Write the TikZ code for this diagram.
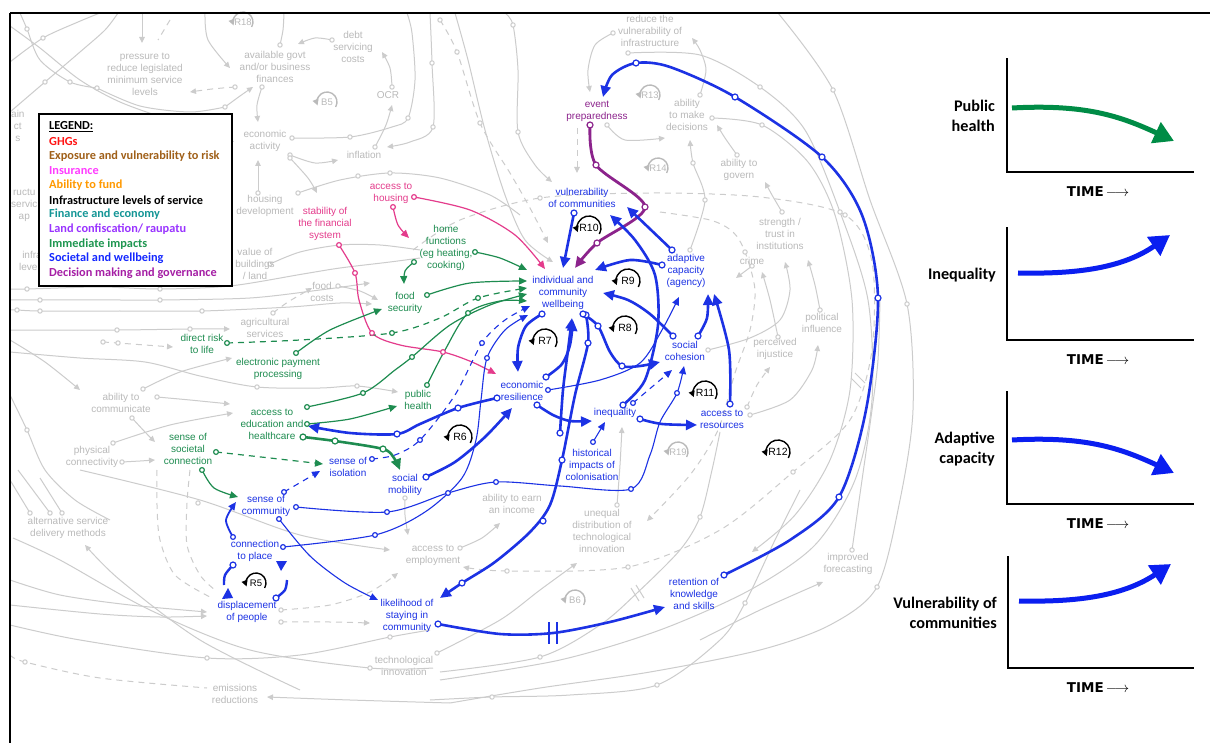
\documentclass[tikz,border=0pt]{standalone}
\usepackage{fontspec}
\usetikzlibrary{arrows.meta,calc}
\newfontfamily\diafont{Liberation Sans}
\newfontfamily\calfont{Carlito}
\newfontfamily\timefont{DejaVu Sans}
\definecolor{dblue}{RGB}{28,50,228}
\definecolor{dgreen}{RGB}{30,140,80}
\definecolor{dpink}{RGB}{228,60,140}
\definecolor{dpurple}{RGB}{140,35,140}
\definecolor{gline}{RGB}{204,204,204}
\definecolor{gtext}{RGB}{186,186,186}
\definecolor{cgreen}{RGB}{0,140,70}
\definecolor{cblue}{RGB}{10,30,240}
\definecolor{lgred}{RGB}{255,20,20}
\definecolor{lgbrown}{RGB}{160,96,25}
\definecolor{lgpink}{RGB}{255,60,255}
\definecolor{lgorange}{RGB}{255,153,0}
\definecolor{lgteal}{RGB}{20,150,150}
\definecolor{lgviolet}{RGB}{153,51,255}
\definecolor{lggreen}{RGB}{30,150,80}
\definecolor{lgblue}{RGB}{20,40,255}
\definecolor{lgplum}{RGB}{165,30,165}

\tikzset{
  lbl/.style={font=\diafont\fontsize{10}{12}\selectfont, align=center, inner sep=0pt},
  glbl/.style={lbl, text=gtext},
  blbl/.style={lbl, text=dblue},
  grlbl/.style={lbl, text=dgreen},
  pklbl/.style={lbl, text=dpink},
  pplbl/.style={lbl, text=dpurple},
  gl/.style={draw=gline, line width=1pt},
  gd/.style={gl, dash pattern=on 6pt off 5pt},
  gtip/.style={-{Triangle[length=6pt,width=5.5pt]}},
  bthin/.style={draw=dblue, line width=1.1pt},
  bthick/.style={draw=dblue, line width=2.6pt},
  gthin/.style={draw=dgreen, line width=1.2pt},
  gthick/.style={draw=dgreen, line width=2.6pt},
  kthin/.style={draw=dpink, line width=1.2pt},
  pthick/.style={draw=dpurple, line width=2.8pt},
  tipS/.style={-{Triangle[length=8pt,width=7pt]}},
  tipL/.style={-{Triangle[length=11pt,width=10pt]}},
  dsh/.style={dash pattern=on 6pt off 5pt},
  legtxt/.style={anchor=west, inner sep=0pt, font=\calfont\bfseries\fontsize{12.3}{14}\selectfont},
  chartlbl/.style={anchor=east, align=right, inner sep=0pt, font=\calfont\bfseries\fontsize{16.2}{20}\selectfont},
  timelbl/.style={inner sep=0pt, font=\timefont\bfseries\fontsize{13.5}{14}\selectfont},
  axis/.style={line width=2.6pt, line cap=rect},
}

% open circles that mark the start and the bends of a link
\newcommand{\dmark}[3]{\foreach \q in {#3}{\draw[draw=#1,fill=white,line width=1.2pt] \q circle (#2pt);}}
\newcommand{\gmark}[1]{\foreach \q in {#1}{\draw[gl,fill=white] \q circle (2.2pt);}}
% loop marker: label inside a circular arrow
\newcommand{\rloop}[6]{%
  \node[font=\diafont\fontsize{#6}{#6}\selectfont,text=#4,inner sep=0pt] (#1) at (#2) {#3};
  \draw[draw=#4,line width=1.4pt,-{Triangle[length=6pt,width=6pt]}] ($(#2)+(30:#5)$) arc[start angle=30,end angle=-200,radius=#5];
}

\begin{document}
\begin{tikzpicture}[x=1pt,y=-1pt]
\fill[white] (0,0) rectangle (1210,743);
\useasboundingbox (0,0) rectangle (1210,743);

% ================= background web (grey) =================
\begin{scope}
\clip (11,14) rectangle (930,743);
\draw[gl] plot[smooth] coordinates {(10,62) (43,38) (78,22) (100,13)};
\draw[gl,gtip] plot[smooth] coordinates {(10,26) (40,48) (80,80) (120,102) (170,120) (210,132) (234,142)};
\draw[gl] plot[smooth] coordinates {(10,112) (45,82) (80,52) (105,30) (118,13)};
\draw[gl] plot[smooth] coordinates {(20,13) (27,29) (40,60) (70,82) (97,88)};
\draw[gl] plot[smooth] coordinates {(97,88) (140,106) (190,112) (225,107)};
\draw[gl,gtip] (142,13) -- (142,43);
\draw[gd] (170,20) -- (158,40);
\draw[gl,gtip] plot[smooth] coordinates {(205,13) (208,40) (230,68)};
\draw[gl] plot[smooth] coordinates {(280,45) (283,30) (284,13)};
\draw[gl,gtip] plot[smooth] coordinates {(332,40) (315,38) (298,44)};
\draw[gd,gtip] plot[smooth] coordinates {(235,87) (212,89) (190,92)};
\draw[gl,gtip] plot[smooth] coordinates {(225,107) (240,96) (253,87)};
\draw[gl,gtip] plot[smooth] coordinates {(262,87) (257,105) (258,122)};
\draw[gl] plot[smooth] coordinates {(292,138) (350,137) (392,127) (408,118) (415,80) (412,33) (407,13)};
\draw[gl,gtip] plot[smooth] coordinates {(375,147) (386,125) (392,105)};
\draw[gl,gtip] plot[smooth] coordinates {(392,87) (390,68) (382,52)};
\draw[gl,gtip] plot[smooth] coordinates {(290,155) (315,163) (338,160)};
\draw[gl,gtip] plot[smooth] coordinates {(430,13) (432,63) (433,127) (410,142) (387,147)};
\draw[gd,gtip] plot[smooth] coordinates {(440,20) (457,52) (480,123) (510,173) (530,208) (548,243)};
\draw[gl,gtip] plot[smooth] coordinates {(505,13) (513,25) (518,70) (518,132) (535,165) (552,182)};
\draw[gl,gtip] plot[smooth] coordinates {(455,13) (468,60) (485,130) (505,195) (525,240) (553,262)};
\draw[gl] plot[smooth] coordinates {(298,193) (340,180) (390,173) (440,178) (490,195) (520,215)};
\draw[gl,gtip] plot[smooth] coordinates {(290,158) (308,178) (317,193)};
\draw[gl,gtip] (258,193) -- (258,160);
\draw[gl] plot[smooth] coordinates {(270,264) (300,252) (340,245) (380,245) (420,250)};
\draw[gl,gtip] plot[smooth] coordinates {(338,286) (360,291) (378,300)};
\draw[gd,gtip] plot[smooth] coordinates {(273,313) (288,302) (312,288)};
\draw[gl] plot[smooth] coordinates {(10,289) (27,289) (100,287) (160,289) (230,286) (303,274) (340,268) (390,262) (420,258)};
\draw[gl,gtip] plot[smooth] coordinates {(10,300) (40,300) (120,300) (160,300) (250,298) (320,290) (370,283)};
\draw[gl,gtip] plot[smooth] coordinates {(10,310) (17,310) (40,311) (120,311) (202,311) (290,307) (340,303) (372,304)};
\draw[gl,gtip] plot[smooth] coordinates {(10,330) (117,330) (190,329) (230,329)};
\draw[gd,gtip] plot[smooth] coordinates {(103,342) (118,343) (145,345) (173,347)};
\draw[gl,gtip] plot[smooth] coordinates {(10,352) (80,358) (145,362) (200,376) (257,387) (320,388) (357,386) (398,392)};
\draw[gl,gtip] plot[smooth] coordinates {(10,340) (45,362) (80,390)};
\draw[gl,gtip] plot[smooth] coordinates {(143,389) (180,372) (232,358)};
\draw[gl,gtip] plot[smooth] coordinates {(157,397) (190,400) (230,404)};
\draw[gl,gtip] plot[smooth] coordinates {(132,418) (145,432) (155,442)};
\draw[gl,gtip] plot[smooth] coordinates {(113,443) (170,425) (233,413)};
\draw[gl,gtip] plot[smooth] coordinates {(122,462) (140,461) (155,460)};
\draw[gl] plot[smooth] coordinates {(10,395) (27,430) (45,470) (75,500) (110,520)};
\draw[gl,gtip] plot[smooth] coordinates {(10,580) (60,595) (130,605) (207,612)};
\draw[gl,gtip] plot[smooth] coordinates {(10,605) (100,614) (160,617) (207,616)};
\draw[gl] plot[smooth] coordinates {(10,625) (80,640) (207,658) (300,655) (390,637) (430,630)};
\draw[gd] plot[smooth] coordinates {(10,655) (25,662) (100,678) (207,688)};
\draw[gl,gtip] plot[smooth] coordinates {(450,703) (350,700) (267,697)};
\draw[gl] plot[smooth] coordinates {(13,538) (60,560) (150,610) (250,650) (370,668) (433,668)};
\draw[gl,gtip] plot[smooth] coordinates {(300,690) (200,640) (120,580) (85,545)};
\draw[gl] (10,480) -- (30,513);
\draw[gl] (18,470) -- (50,513);
\draw[gl] (40,478) -- (62,513);
\draw[gd] plot[smooth] coordinates {(157,470) (157,505) (160,540) (175,575) (210,597)};
\draw[gd] plot[smooth] coordinates {(190,470) (187,503) (187,545) (200,575) (215,590)};
\draw[gd,gtip] plot[smooth] coordinates {(281,610) (330,605) (370,592) (398,573)};
\draw[gd,gtip] plot[smooth] coordinates {(281,622) (330,622) (370,623)};
\draw[gl,gtip] plot[smooth] coordinates {(460,548) (482,538) (500,523)};
\draw[gl,gtip] plot[smooth] coordinates {(405,498) (405,515) (408,535)};
\draw[gl,gtip] plot[smooth] coordinates {(80,470) (200,500) (300,535) (390,550)};
\draw[gl,gtip] plot[smooth] coordinates {(617,505) (620,465) (622,427)};
\draw[gl,gtip] plot[smooth] coordinates {(437,653) (500,620) (540,590) (577,563)};
\draw[gl] plot[smooth] coordinates {(440,672) (540,657) (600,625) (637,593) (680,550) (700,517) (712,470) (720,432)};
\draw[gl] plot[smooth] coordinates {(430,700) (492,697) (570,695) (657,685) (720,640) (745,603) (775,540) (800,490)};
\draw[gl] plot[smooth] coordinates {(852,550) (862,480) (872,410) (878,360) (880,300)};
\draw[gl,gtip] plot[smooth] coordinates {(700,640) (760,610) (823,582)};
\draw[gd,gtip] plot[smooth] coordinates {(413,250) (460,220) (540,198) (650,193) (760,197) (845,215) (872,262) (872,350) (850,420) (793,472) (720,530) (628,567) (507,571) (463,567)};
\draw[gd,gtip] plot[smooth] coordinates {(660,212) (710,220) (733,232) (745,252) (755,290) (750,330) (735,373) (718,430) (690,475) (647,521)};
\draw[gl,gtip] plot[smooth] coordinates {(782,212) (772,195) (765,182)};
\draw[gl,gtip] plot[smooth] coordinates {(737,155) (725,138) (717,125)};
\draw[gl,gtip] plot[smooth] coordinates {(690,250) (705,200) (693,163) (690,140)};
\draw[gl,gtip] plot[smooth] coordinates {(752,266) (744,272) (736,278)};
\draw[gl,gtip] plot[smooth] coordinates {(778,337) (770,300) (762,272)};
\draw[gl,gtip] plot[smooth] coordinates {(708,350) (750,338) (780,320) (790,290) (785,262)};
\draw[gl,gtip] plot[smooth] coordinates {(820,310) (815,285) (808,260)};
\draw[gl,gtip] plot[smooth] coordinates {(750,415) (790,400) (812,370) (818,345)};
\draw[gd,gtip] plot[smooth] coordinates {(747,407) (757,385) (770,367)};
\draw[gl] plot[smooth] coordinates {(778,13) (833,90) (870,200) (907,304) (913,410) (900,500) (877,587) (830,625) (760,650) (650,672) (540,688) (450,703)};
\draw[gl] plot[smooth] coordinates {(628,53) (700,55) (760,87) (805,130) (840,212) (868,300) (872,400) (855,480) (815,545) (750,590) (660,630) (560,660) (440,680)};
\draw[gl,gtip] plot[smooth] coordinates {(712,118) (762,125) (808,162) (835,215) (852,300) (850,390) (830,460) (795,515) (752,552)};
\draw[gl,gtip] plot[smooth] coordinates {(613,33) (595,45) (588,70) (590,92)};
\draw[gl,gtip] plot[smooth] coordinates {(700,95) (706,70) (700,50) (692,38)};
\draw[gl,gtip] plot[smooth] coordinates {(607,125) (625,140) (665,138)};
\draw[gd,gtip] (577,128) -- (577,173);
\draw[gl] (631,588) -- (639,601) (636,585) -- (644,598);
\draw[gl] (851,378) -- (861,388) (855,373) -- (865,383);
\gmark{(43,38),(45,82),(27,29),(70,82),(97,88),(225,107),(280,45),(332,40),(235,87),(262,87),(292,138),(350,137),(408,118),
  (375,147),(392,87),(290,155),(432,63),(433,127),(440,20),(457,52),(480,123),(513,25),(518,132),(298,193),(358,176),(390,173),
  (290,158),(258,193),(270,264),(338,286),(273,313),(27,289),(160,289),(40,300),(160,300),(17,310),(40,311),(202,311),
  (117,330),(190,329),(103,342),(118,343),(257,387),(357,386),(143,389),(157,397),(132,418),(113,443),(122,462),(27,430),
  (207,658),(390,637),(25,662),(370,668),(30,513),(50,513),(62,513),(198,503),(281,610),(281,622),(460,548),(405,498),
  (617,505),(437,653),(540,657),(700,517),(492,697),(657,685),(745,603),(852,550),(877,587),(540,198),(845,215),(793,472),
  (628,567),(507,571),(745,252),(782,212),(737,155),(690,250),(705,200),(693,163),(752,266),(778,337),(708,350),(820,310),
  (750,415),(747,407),(833,90),(907,304),(760,87),(840,212),(712,118),(762,125),(613,33),(628,53),(700,95),(607,125)}
\end{scope}

% ---------- grey labels ----------
\begin{scope}
\clip (11,14) rectangle (930,743);
\node[glbl,anchor=west] (frA) at (11,126) {ain\\ct\\s};
\node[glbl,anchor=west] (frB) at (11,205) {ructu\\servic\\ap};
\node[glbl,anchor=west] (frC) at (19,261) {infra\\levels};
\end{scope}
\node[glbl] (pressure) at (145,74) {pressure to\\reduce legislated\\minimum service\\levels};
\node[glbl] (govt) at (275,67) {available govt\\and/or business\\finances};
\node[glbl] (debt) at (353,47) {debt\\servicing\\costs};
\node[glbl] (ocr) at (388,95) {OCR};
\node[glbl] (ecact) at (265,141) {economic\\activity};
\node[glbl] (infl) at (364,155) {inflation};
\node[glbl] (housdev) at (265,206) {housing\\development};
\node[glbl] (valbld) at (255,264) {value of\\buildings\\/ land};
\node[glbl] (foodc) at (322,292) {food\\costs};
\node[glbl] (agri) at (265,328) {agricultural\\services};
\node[glbl] (comm) at (121,403) {ability to\\communicate};
\node[glbl] (phys) at (92,457) {physical\\connectivity};
\node[glbl] (altserv) at (68,528) {alternative service\\delivery methods};
\node[glbl] (emis) at (235,694) {emissions\\reductions};
\node[glbl] (tech) at (404,666) {technological\\innovation};
\node[glbl] (employ) at (433,555) {access to\\employment};
\node[glbl] (earn) at (512,504) {ability to earn\\an income};
\node[glbl] (uneq) at (602,531) {unequal\\distribution of\\technological\\innovation};
\node[glbl] (forec) at (848,564) {improved\\forecasting};
\node[glbl] (perc) at (775,349) {perceived\\injustice};
\node[glbl] (polit) at (822,323) {political\\influence};
\node[glbl] (crime) at (752,261) {crime};
\node[glbl] (trust) at (780,234) {strength /\\trust in\\institutions};
\node[glbl] (govern) at (739,170) {ability to\\govern};
\node[glbl] (decide) at (687,115) {ability\\to make\\decisions};
\node[glbl] (reduce) at (650,31) {reduce the\\vulnerability of\\infrastructure};
\rloop{lR18}{243,22}{R18}{gtext}{10}{9.5}
\rloop{lB5}{327,102}{B5}{gtext}{10}{9.5}
\rloop{lR13}{650,95}{R13}{gtext}{10}{9.5}
\rloop{lR14}{658,168}{R14}{gtext}{10}{9.5}
\rloop{lR19}{678,452}{R19}{gtext}{10}{9.5}
\rloop{lB6}{575,600}{B6}{gtext}{10}{9.5}

% ================= coloured labels =================
\node[pplbl] (evprep) at (597,111) {event\\preparedness};
\node[blbl] (vuln) at (582,198) {vulnerability\\of communities};
\node[blbl] (wellb) at (563,293) {individual and\\community\\wellbeing};
\node[blbl] (adapt) at (686,271) {adaptive\\capacity\\(agency)};
\node[blbl] (econres) at (522,391) {economic\\resilience};
\node[blbl] (social) at (685,351) {social\\cohesion};
\node[blbl] (ineq) at (615,413) {inequality};
\node[blbl] (access) at (722,419) {access to\\resources};
\node[blbl] (hist) at (592,465) {historical\\impacts of\\colonisation};
\node[blbl] (isol) at (348,467) {sense of\\isolation};
\node[blbl] (mobil) at (405,485) {social\\mobility};
\node[blbl] (scomm) at (266,506) {sense of\\community};
\node[blbl] (conn) at (255,551) {connection\\to place};
\node[blbl] (displ) at (247,612) {displacement\\of people};
\node[blbl] (stay) at (407,616) {likelihood of\\staying in\\community};
\node[blbl] (retain) at (694,594) {retention of\\knowledge\\and skills};
\node[grlbl] (home) at (446,248) {home\\functions\\(eg heating,\\cooking)};
\node[grlbl] (food) at (405,303) {food\\security};
\node[grlbl] (risk) at (202,344) {direct risk\\to life};
\node[grlbl] (epay) at (278,369) {electronic payment\\processing};
\node[grlbl] (phealth) at (418,400) {public\\health};
\node[grlbl] (edu) at (272,424) {access to\\education and\\healthcare};
\node[grlbl] (societal) at (188,449) {sense of\\societal\\connection};
\node[pklbl] (housing) at (391,193) {access to\\housing};
\node[pklbl] (finsys) at (325,224) {stability of\\the financial\\system};

% ================= link end points =================
\coordinate (ep-o) at (590,125);   \coordinate (wb-pp) at (575,268);
\coordinate (rt-o) at (724,575);   \coordinate (ep-i) at (603,97);
\coordinate (st-o) at (438,624);   \coordinate (rt-i) at (665,607);
\coordinate (wb-o3) at (586,315);  \coordinate (st-i) at (440,598);
\coordinate (mid-o) at (560,433);  \coordinate (wb-i3) at (572,318);
\coordinate (wb-o1) at (542,314);  \coordinate (er-i1) at (518,372);
\coordinate (er-o1) at (546,377);  \coordinate (wb-i1) at (573,320);
\coordinate (sm-o) at (426,477);   \coordinate (er-i2) at (512,408);
\coordinate (er-o2) at (497,398);  \coordinate (ed-i1) at (308,426);
\coordinate (iq-o1) at (623,405);  \coordinate (vu-i1) at (610,215);
\coordinate (ac-o1) at (672,250);  \coordinate (vu-i2) at (627,207);
\coordinate (vu-o) at (574,213);   \coordinate (wb-i2) at (563,268);
\coordinate (ac-o2) at (662,265);  \coordinate (wb-i4) at (595,270);
\coordinate (sc-o1) at (673,336);  \coordinate (wb-i5) at (603,293);
\coordinate (sc-o2) at (698,336);  \coordinate (ac-i1) at (708,294);
\coordinate (ar-o) at (730,404);   \coordinate (ac-i2) at (714,294);
\coordinate (wb-o2) at (583,314);  \coordinate (sc-i1) at (660,362);
\coordinate (er-o3) at (537,405);  \coordinate (iq-i1) at (592,421);
\coordinate (iq-o2) at (640,419);  \coordinate (ar-i) at (697,425);
\coordinate (hi-o) at (593,442);   \coordinate (iq-i2) at (605,422);
\coordinate (er-o4) at (548,390);  \coordinate (ac-i3) at (679,297);
\coordinate (iq-o3) at (633,403);  \coordinate (sc-i2) at (672,370);
\coordinate (cm-o1) at (296,507);  \coordinate (sc-i3) at (684,366);
\coordinate (cp-o1) at (283,547);  \coordinate (wb-i6) at (528,315);
\coordinate (is-o) at (372,459);   \coordinate (wb-i7) at (530,306);
\coordinate (cm-o2) at (284,492);  \coordinate (is-i) at (320,471);
\coordinate (cm-o3) at (279,519);  \coordinate (st-i2) at (378,600);
\coordinate (cp-o2) at (233,537);  \coordinate (cm-i) at (236,502);
\coordinate (hf-o1) at (475,252);  \coordinate (wb-g1) at (527,270);
\coordinate (hf-o2) at (414,262);  \coordinate (fs-i1) at (404,284);
\coordinate (fs-o) at (427,295);   \coordinate (wb-g2) at (527,281);
\coordinate (dr-o) at (227,343);   \coordinate (wb-g3) at (527,288);
\coordinate (ep2-o) at (296,353);  \coordinate (fs-i2) at (382,309);
\coordinate (ph-o) at (427,385);   \coordinate (wb-g4) at (527,301);
\coordinate (ed-o1) at (307,407);  \coordinate (wb-g5) at (527,294);
\coordinate (ed-o2) at (307,424);  \coordinate (ph-i) at (397,406);
\coordinate (ed-o3) at (303,437);  \coordinate (sm-i) at (400,470);
\coordinate (sc2-o1) at (216,452); \coordinate (is-i2) at (323,464);
\coordinate (sc2-o2) at (202,470); \coordinate (cm-i2) at (238,497);
\coordinate (ho-o1) at (414,197);  \coordinate (wb-k) at (545,269);
\coordinate (ho-o2) at (393,207);  \coordinate (hf-i) at (409,238);
\coordinate (fn-o) at (339,245);   \coordinate (er-i3) at (496,374);

% ================= coloured links =================
% insurance (pink)
\draw[kthin,tipS] plot[smooth] coordinates {(ho-o1) (470,210) (515,235) (wb-k)};
\draw[kthin,tipS] plot[smooth] coordinates {(ho-o2) (398,225) (hf-i)};
\draw[kthin,tipS] plot[smooth] coordinates {(fn-o) (355,273) (359,300) (372,333) (400,345) (443,352) (472,362) (er-i3)};
% immediate impacts (green)
\draw[gthin,tipS] plot[smooth] coordinates {(hf-o1) (500,258) (wb-g1)};
\draw[gthin,tipS] plot[smooth] coordinates {(hf-o2) (405,271) (fs-i1)};
\draw[gthin,tipS] plot[smooth] coordinates {(fs-o) (470,283) (wb-g2)};
\draw[gthin,dsh,tipS] plot[smooth] coordinates {(dr-o) (300,340) (392,333) (440,318) (478,298) (wb-g3)};
\draw[gthin,tipS] plot[smooth] coordinates {(ep2-o) (330,330) (fs-i2)};
\draw[gthin,tipS] plot[smooth] coordinates {(ph-o) (445,350) (468,313) (500,301) (wb-g4)};
\draw[gthin,tipS] plot[smooth] coordinates {(ed-o1) (363,393) (395,370) (412,357) (450,325) (490,305) (wb-g5)};
\draw[gthin,tipS] plot[smooth] coordinates {(ed-o2) (350,419) (ph-i)};
\draw[gthick,tipL] plot[smooth] coordinates {(ed-o3) (335,441) (383,449) (394,458) (sm-i)};
\draw[gthin,dsh,tipS] plot[smooth] coordinates {(sc2-o1) (270,458) (is-i2)};
\draw[gthin,tipS] plot[smooth] coordinates {(sc2-o2) (214,488) (cm-i2)};
% decision making (purple)
\draw[pthick,tipL] plot[smooth] coordinates {(ep-o) (596,165) (645,207) (597,243) (wb-pp)};
% societal and wellbeing (blue), thin
\draw[bthin,tipS] (hi-o) -- (iq-i2);
\draw[bthin,tipS] plot[smooth] coordinates {(er-o4) (600,380) (640,363) (662,330) (ac-i3)};
\draw[bthin,dsh,tipS] (iq-o3) -- (sc-i2);
\draw[bthin,tipS] plot[smooth] coordinates {(cm-o1) (387,512) (448,493) (496,482) (560,486) (631,489) (650,455) (660,422) (677,393) (sc-i3)};
\draw[bthin,tipS] plot[smooth] coordinates {(cp-o1) (375,535) (425,512) (462,478) (476,440) (481,400) (487,358) (505,330) (wb-i6)};
\draw[bthin,dsh,tipS] plot[smooth] coordinates {(is-o) (395,455) (420,440) (455,395) (482,343) (505,320) (wb-i7)};
\draw[bthin,dsh,tipS] (cm-o2) -- (is-i);
\draw[bthin,tipS] plot[smooth] coordinates {(cm-o3) (310,556) (345,583) (st-i2)};
\draw[draw=dblue,line width=1.8pt,tipS] plot[smooth] coordinates {(cp-o2) (226,520) (cm-i)};
% societal and wellbeing (blue), thick
\draw[bthick,tipL] plot[smooth] coordinates {(rt-o) (790,540) (839,497) (866,410) (878,298) (862,215) (822,157) (735,97) (670,67) (636,63) (612,75) (ep-i)};
\draw[bthick,tipL] plot[smooth] coordinates {(st-o) (500,634) (553,633) (610,622) (rt-i)};
\draw[dblue,line width=1.8pt] (549,622) -- (549,644) (557,622) -- (557,644);
\draw[bthick,tipL] plot[smooth] coordinates {(wb-o3) (588,343) (575,395) (562,460) (550,505) (530,532) (495,562) (462,583) (st-i)};
\draw[bthick,tipL] plot[smooth] coordinates {(mid-o) (563,390) (568,350) (wb-i3)};
\draw[bthick,tipL] plot[smooth] coordinates {(wb-o1) (526,326) (518,348) (er-i1)};
\draw[bthick,tipL] plot[smooth] coordinates {(er-o1) (562,364) (570,345) (wb-i1)};
\draw[bthick,tipL] plot[smooth] coordinates {(sm-o) (455,462) (485,437) (er-i2)};
\draw[bthick,tipL] plot[smooth] coordinates {(er-o2) (458,408) (420,424) (397,434) (350,433) (ed-i1)};
\draw[bthick,tipL] plot[smooth] coordinates {(iq-o1) (645,380) (658,325) (655,275) (635,240) (vu-i1)};
\draw[bthick,tipL] (ac-o1) -- (vu-i2);
\draw[bthick,tipL] (vu-o) -- (wb-i2);
\draw[bthick,tipL] plot[smooth] coordinates {(ac-o2) (630,260) (wb-i4)};
\draw[bthick,tipL] plot[smooth] coordinates {(sc-o1) (650,314) (628,300) (wb-i5)};
\draw[bthick,tipL] plot[smooth] coordinates {(sc-o2) (707,318) (ac-i1)};
\draw[bthick,tipL] plot[smooth] coordinates {(ar-o) (729,350) (ac-i2)};
\draw[bthick,tipL] plot[smooth] coordinates {(wb-o2) (598,326) (610,352) (622,366) (640,366) (sc-i1)};
\draw[bthick,tipL] plot[smooth] coordinates {(er-o3) (553,415) (570,421) (iq-i1)};
\draw[bthick,tipL] plot[smooth] coordinates {(iq-o2) (662,424) (ar-i)};
% R5 loop between place and displacement
\draw[draw=dblue,line width=2.4pt] plot[smooth] coordinates {(233,565) (225,575) (224,585)};
\fill[dblue] (222,599) -- (233,598) -- (228,588) -- cycle;
\draw[draw=dblue,line width=2.4pt] plot[smooth] coordinates {(276,598) (285,590) (287,580)};
\fill[dblue] (276,561) -- (287,561) -- (281,571) -- cycle;

% markers on coloured links
\dmark{dpink}{2.4}{(ho-o1),(ho-o2),(fn-o),(355,273),(372,333),(443,352)}
\dmark{dgreen}{2.4}{(hf-o1),(hf-o2),(fs-o),(dr-o),(392,333),(478,298),(ep2-o),(ph-o),(468,313),(ed-o1),(363,393),(412,357),(ed-o2),(sc2-o1),(sc2-o2)}
\dmark{dgreen}{3}{(ed-o3),(335,441),(383,449)}
\dmark{dpurple}{3}{(ep-o),(596,165),(645,207),(597,243)}
\dmark{dblue}{2.4}{(hi-o),(er-o4),(iq-o3),(cm-o1),(387,512),(448,493),(496,482),(631,489),(677,393),(cp-o1),(375,535),(487,358),(is-o),(420,440),(482,343),(cm-o2),(cm-o3),(cp-o2)}
\dmark{dblue}{3}{(rt-o),(839,497),(878,298),(822,157),(735,97),(636,63),(st-o),(wb-o3),(588,343),(562,460),(543,521),(462,583),(mid-o),
  (wb-o1),(er-o1),(sm-o),(er-o2),(458,408),(397,434),(iq-o1),(ac-o1),(vu-o),(ac-o2),(sc-o1),(sc-o2),(ar-o),(wb-o2),(598,326),(622,366),
  (er-o3),(iq-o2),(233,565),(276,598)}

% loop markers
\rloop{lR10}{589,228}{R10}{black}{12}{10.5}
\rloop{lR9}{628,281}{R9}{black}{12}{10.5}
\rloop{lR8}{625,328}{R8}{black}{12}{10.5}
\rloop{lR7}{545,341}{R7}{black}{12}{10.5}
\rloop{lR6}{460,437}{R6}{black}{12}{10.5}
\rloop{lR11}{705,393}{R11}{black}{12}{10.5}
\rloop{lR12}{778,452}{R12}{black}{12}{10.5}
\rloop{lR5}{256,583}{R5}{black}{10}{9.5}

% ================= legend =================
\draw[line width=1.2pt, fill=white] (39,114) rectangle (232,286);
\node[legtxt] (lg0) at (49,127) {\underline{LEGEND:}};
\node[legtxt, text=lgred] (lg1) at (49,141.6) {GHGs};
\node[legtxt, text=lgbrown] (lg2) at (49,156.2) {Exposure and vulnerability to risk};
\node[legtxt, text=lgpink] (lg3) at (49,170.8) {Insurance};
\node[legtxt, text=lgorange] (lg4) at (49,185.4) {Ability to fund};
\node[legtxt, text=black] (lg5) at (49,200) {Infrastructure levels of service};
\node[legtxt, text=lgteal] (lg6) at (49,214.6) {Finance and economy};
\node[legtxt, text=lgviolet] (lg7) at (49,229.2) {Land confiscation/ raupatu};
\node[legtxt, text=lggreen] (lg8) at (49,243.8) {Immediate impacts};
\node[legtxt, text=lgblue] (lg9) at (49,258.4) {Societal and wellbeing};
\node[legtxt, text=lgplum] (lg10) at (49,273) {Decision making and governance};

% ================= frame =================
\draw[line width=1.8pt] (10,13) -- (1210,13);
\draw[line width=1.8pt] (10,13) -- (10,743);

% ================= trend charts =================
\draw[axis] (1007,59) -- (1007,172) -- (1193,172);
\draw[axis] (1007,228) -- (1007,340) -- (1193,340);
\draw[axis] (1007,392) -- (1007,504) -- (1193,504);
\draw[axis] (1008,557) -- (1008,668) -- (1193,668);
\draw[cgreen, line width=5pt, -{Triangle[length=20pt,width=22pt]}] (1012,108) .. controls (1085,104) and (1120,116) .. (1174,141);
\draw[cblue, line width=5pt, -{Triangle[length=20pt,width=22pt]}] (1018,273) .. controls (1070,274) and (1120,270) .. (1170,235);
\draw[cblue, line width=5pt, -{Triangle[length=20pt,width=22pt]}] (1012,440) .. controls (1085,436) and (1120,448) .. (1174,473);
\draw[cblue, line width=5pt, -{Triangle[length=20pt,width=22pt]}] (1019,601) .. controls (1070,602) and (1120,598) .. (1171,564);
\node[chartlbl] (ch1) at (995,116) {Public\\health};
\node[chartlbl] (ch2) at (996,275) {Inequality};
\node[chartlbl] (ch3) at (995,449) {Adaptive\\capacity};
\node[chartlbl] (ch4) at (997,613) {Vulnerability of\\communities};
\node[timelbl] (t1) at (1098,192) {TIME\,$\longrightarrow$};
\node[timelbl] (t2) at (1098,360) {TIME\,$\longrightarrow$};
\node[timelbl] (t3) at (1098,524) {TIME\,$\longrightarrow$};
\node[timelbl] (t4) at (1098,688) {TIME\,$\longrightarrow$};
\end{tikzpicture}
\end{document}
